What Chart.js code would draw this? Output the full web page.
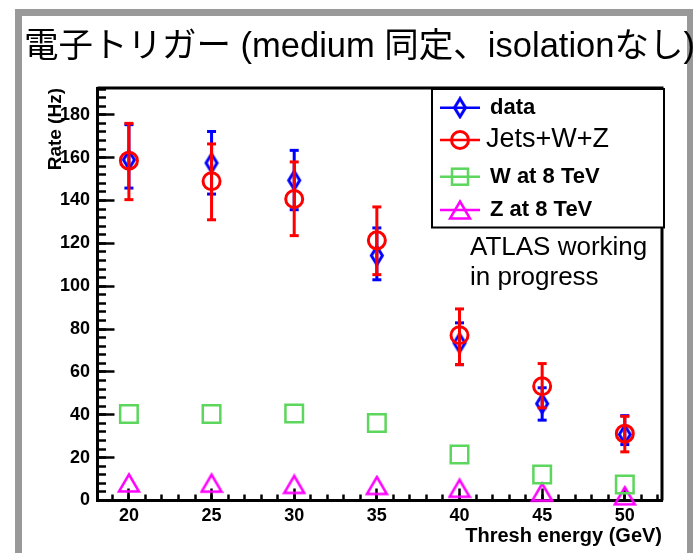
<!DOCTYPE html>
<html>
<head>
<meta charset="utf-8">
<script src="https://cdn.jsdelivr.net/npm/chart.js"></script>
<style>
  body { margin: 0; background: #fff; }
  canvas { display: block; }
</style>
</head>
<body>
<canvas id="rateChart" width="693" height="553"></canvas>
<script>
// threshold energies (GeV)
var thresholds = [20, 25, 30, 35, 40, 45, 50];

// data with error bars
var dataRate = [159, 157.5, 149.4, 114.3, 73.5, 45.2, 30.8];
var dataLow  = [145.8, 143, 135.7, 103, 63.4, 37.5, 26.1];
var dataHigh = [175.4, 172.2, 163.4, 127.2, 82.9, 52.6, 39.6];

// Jets+W+Z with error bars
var mcRate = [158.6, 149, 140.7, 121.4, 77.1, 53.3, 31.2];
var mcLow  = [140.4, 131, 123.6, 105.4, 63.4, 43.2, 22.7];
var mcHigh = [176, 166.4, 158, 137, 89.4, 63.9, 39.3];

// W / Z at 8 TeV
var wRate = [40.4, 40.4, 40.6, 36.2, 21.5, 12.1, 7.5];
var zRate = [8.2, 8.1, 7.5, 7.0, 5.7, 3.9, 2.2];

var seriesLabels = ['data', 'Jets+W+Z', 'W at 8 TeV', 'Z at 8 TeV'];
var titleText = '電子トリガー (medium 同定、isolationなし)';
var noteLines = ['ATLAS working', 'in progress'];

var BLUE = '#0000ff', RED = '#ff0000', GREEN = '#5cd65c', MAGENTA = '#ff00ff';
var FONT = '"Liberation Sans", Arial, "Noto Sans CJK JP", sans-serif';

Chart.defaults.font.family = FONT;
Chart.defaults.color = '#000';

function points(ys) {
  return thresholds.map(function (x, i) { return { x: x, y: ys[i] }; });
}
// lo/hi pairs separated by a gap so each one is its own segment
function errorBars(lo, hi) {
  var out = [];
  thresholds.forEach(function (x, i) {
    out.push({ x: x, y: lo[i] }, { x: x, y: hi[i] }, { x: x, y: null });
  });
  return out;
}

// open diamond and open triangle (ROOT style markers)
function markerCanvas(w, h, color, lw, path) {
  var c = document.createElement('canvas');
  c.width = w; c.height = h;
  var g = c.getContext('2d');
  g.strokeStyle = color;
  g.lineWidth = lw;
  g.beginPath();
  path(g);
  g.closePath();
  g.stroke();
  return c;
}
var diamond = markerCanvas(16, 23, BLUE, 3, function (g) {
  g.moveTo(8, 2.5); g.lineTo(13.5, 11.5); g.lineTo(8, 20.5); g.lineTo(2.5, 11.5);
});
var triangle = markerCanvas(24, 22, MAGENTA, 2.5, function (g) {
  g.moveTo(12, 2.5); g.lineTo(22, 19.5); g.lineTo(2, 19.5);
});

var datasets = [
  { label: seriesLabels[0], data: points(dataRate), pointStyle: diamond, pointRadius: 10, order: 2, legendColor: BLUE },
  { label: seriesLabels[1], data: points(mcRate), pointStyle: 'circle', pointRadius: 8.5, pointBorderWidth: 3,
    borderColor: RED, pointBackgroundColor: 'rgba(0,0,0,0)', order: 0, legendColor: RED },
  { label: seriesLabels[2], data: points(wRate), pointStyle: 'rect', pointRadius: 12.4, pointBorderWidth: 2.5,
    borderColor: GREEN, pointBackgroundColor: 'rgba(0,0,0,0)', order: 4, legendColor: GREEN },
  { label: seriesLabels[3], data: points(zRate), pointStyle: triangle, pointRadius: 10, order: 5, legendColor: MAGENTA },
  { label: '', errorBar: true, data: errorBars(dataLow, dataHigh), showLine: true, spanGaps: false,
    borderColor: BLUE, borderWidth: 3, pointStyle: 'line', pointRadius: 4.5, pointBorderWidth: 3, order: 3 },
  { label: '', errorBar: true, data: errorBars(mcLow, mcHigh), showLine: true, spanGaps: false,
    borderColor: RED, borderWidth: 3, pointStyle: 'line', pointRadius: 4.5, pointBorderWidth: 3, order: 1 }
];
datasets.forEach(function (d) { d.clip = false; });

// grey frame + title
var framePlugin = {
  id: 'frame',
  beforeDraw: function (chart) {
    var ctx = chart.ctx;
    ctx.save();
    ctx.fillStyle = '#fff';
    ctx.fillRect(0, 0, chart.width, chart.height);
    ctx.fillStyle = '#999';
    ctx.fillRect(15, 9, 7, chart.height - 9);
    ctx.fillRect(15, 9, chart.width - 15, 7);
    ctx.fillRect(687, 9, 6, chart.height - 9);
    ctx.fillStyle = '#000';
    ctx.font = '34.5px ' + FONT;
    ctx.textBaseline = 'middle';
    ctx.fillText(titleText, 24, 47);
    ctx.restore();
  },
  beforeDatasetsDraw: function (chart) {
    var a = chart.chartArea, ctx = chart.ctx;
    ctx.save();
    ctx.strokeStyle = '#000';
    ctx.lineWidth = 3;
    ctx.beginPath();
    ctx.moveTo(a.left, a.top);
    ctx.lineTo(a.right, a.top);
    ctx.lineTo(a.right, a.bottom);
    ctx.stroke();
    ctx.restore();
  }
};

// ROOT-like legend box and the note below it
var legendPlugin = {
  id: 'rootLegend',
  afterDatasetsDraw: function (chart) {
    var ctx = chart.ctx;
    var rowsY = [107.7, 140, 176.7, 210];
    var fonts = ['bold 22px ', '27px ', 'bold 22px ', 'bold 22px '];
    var textX = [490, 486, 490, 490];
    ctx.save();
    ctx.fillStyle = '#fff';
    ctx.fillRect(432, 89, 232, 138.5);
    ctx.strokeStyle = '#000';
    ctx.lineWidth = 2;
    ctx.strokeRect(432, 89, 232, 138.5);
    var items = chart.data.datasets.filter(function (d) { return !d.errorBar; });
    items.forEach(function (d, i) {
      var y = rowsY[i], col = d.legendColor;
      ctx.strokeStyle = col;
      ctx.lineWidth = 2.5;
      ctx.beginPath();
      ctx.moveTo(440, y); ctx.lineTo(480, y);
      ctx.stroke();
      var ps = d.pointStyle;
      if (typeof ps === 'object') {
        ctx.drawImage(ps, 460 - ps.width / 2, y - ps.height / 2);
      } else if (ps === 'circle') {
        ctx.lineWidth = 3;
        ctx.beginPath(); ctx.arc(460, y, 8.5, 0, Math.PI * 2); ctx.stroke();
      } else if (ps === 'rect') {
        ctx.strokeRect(452, y - 8, 16, 16);
      }
      ctx.fillStyle = '#000';
      ctx.font = fonts[i] + FONT;
      ctx.textBaseline = 'middle';
      ctx.fillText(d.label, textX[i], y);
    });
    ctx.font = '26px ' + FONT;
    ctx.fillText(noteLines[0], 470, 247.5);
    ctx.fillText(noteLines[1], 470, 278);
    ctx.restore();
  }
};

var tickFont = { size: 18, weight: 'bold' };

new Chart(document.getElementById('rateChart'), {
  type: 'scatter',
  data: { datasets: datasets },
  options: {
    responsive: false,
    animation: false,
    events: [],
    layout: { padding: { left: 44, top: 88, right: 31, bottom: 5 } },
    plugins: { legend: { display: false }, tooltip: { enabled: false } },
    scales: {
      x: {
        type: 'linear', position: 'bottom', weight: 1,
        min: 18.1, max: 52.25,
        ticks: { stepSize: 5, includeBounds: false, autoSkip: false, font: tickFont, padding: 16.5, maxRotation: 0 },
        grid: { drawOnChartArea: false, tickLength: -12, tickWidth: 2.5, tickColor: '#000' },
        border: { display: true, width: 3, color: '#000' },
        title: { display: true, text: 'Thresh energy (GeV)', align: 'end', font: { size: 20, weight: 'bold' }, padding: 0 },
        afterFit: function (s) { s.height = 47.5; }
      },
      xMinor: {
        type: 'linear', position: 'bottom', weight: 0,
        min: 18.1, max: 52.25,
        ticks: { display: false, stepSize: 1, includeBounds: false, autoSkip: false },
        grid: { drawOnChartArea: false, tickLength: -6, tickWidth: 2.5, tickColor: '#000' },
        border: { display: false },
        afterFit: function (s) { s.height = 0; }
      },
      y: {
        type: 'linear', position: 'left', weight: 1,
        min: 0, max: 192.5,
        ticks: { stepSize: 20, includeBounds: false, autoSkip: false, font: tickFont, padding: 24.5 },
        grid: { drawOnChartArea: false, tickLength: -17, tickWidth: 2.5, tickColor: '#000' },
        border: { display: true, width: 3, color: '#000' },
        title: { display: true, text: 'Rate (Hz)', align: 'end', font: { size: 19, weight: 'bold' }, padding: 0 },
        afterFit: function (s) { s.width = 53.5; }
      },
      yMinor: {
        type: 'linear', position: 'left', weight: 0,
        min: 0, max: 192.5,
        ticks: { display: false, stepSize: 4, includeBounds: false, autoSkip: false },
        grid: { drawOnChartArea: false, tickLength: -8.5, tickWidth: 2.5, tickColor: '#000' },
        border: { display: false },
        afterFit: function (s) { s.width = 0; }
      }
    }
  },
  plugins: [framePlugin, legendPlugin]
});
</script>
</body>
</html>
